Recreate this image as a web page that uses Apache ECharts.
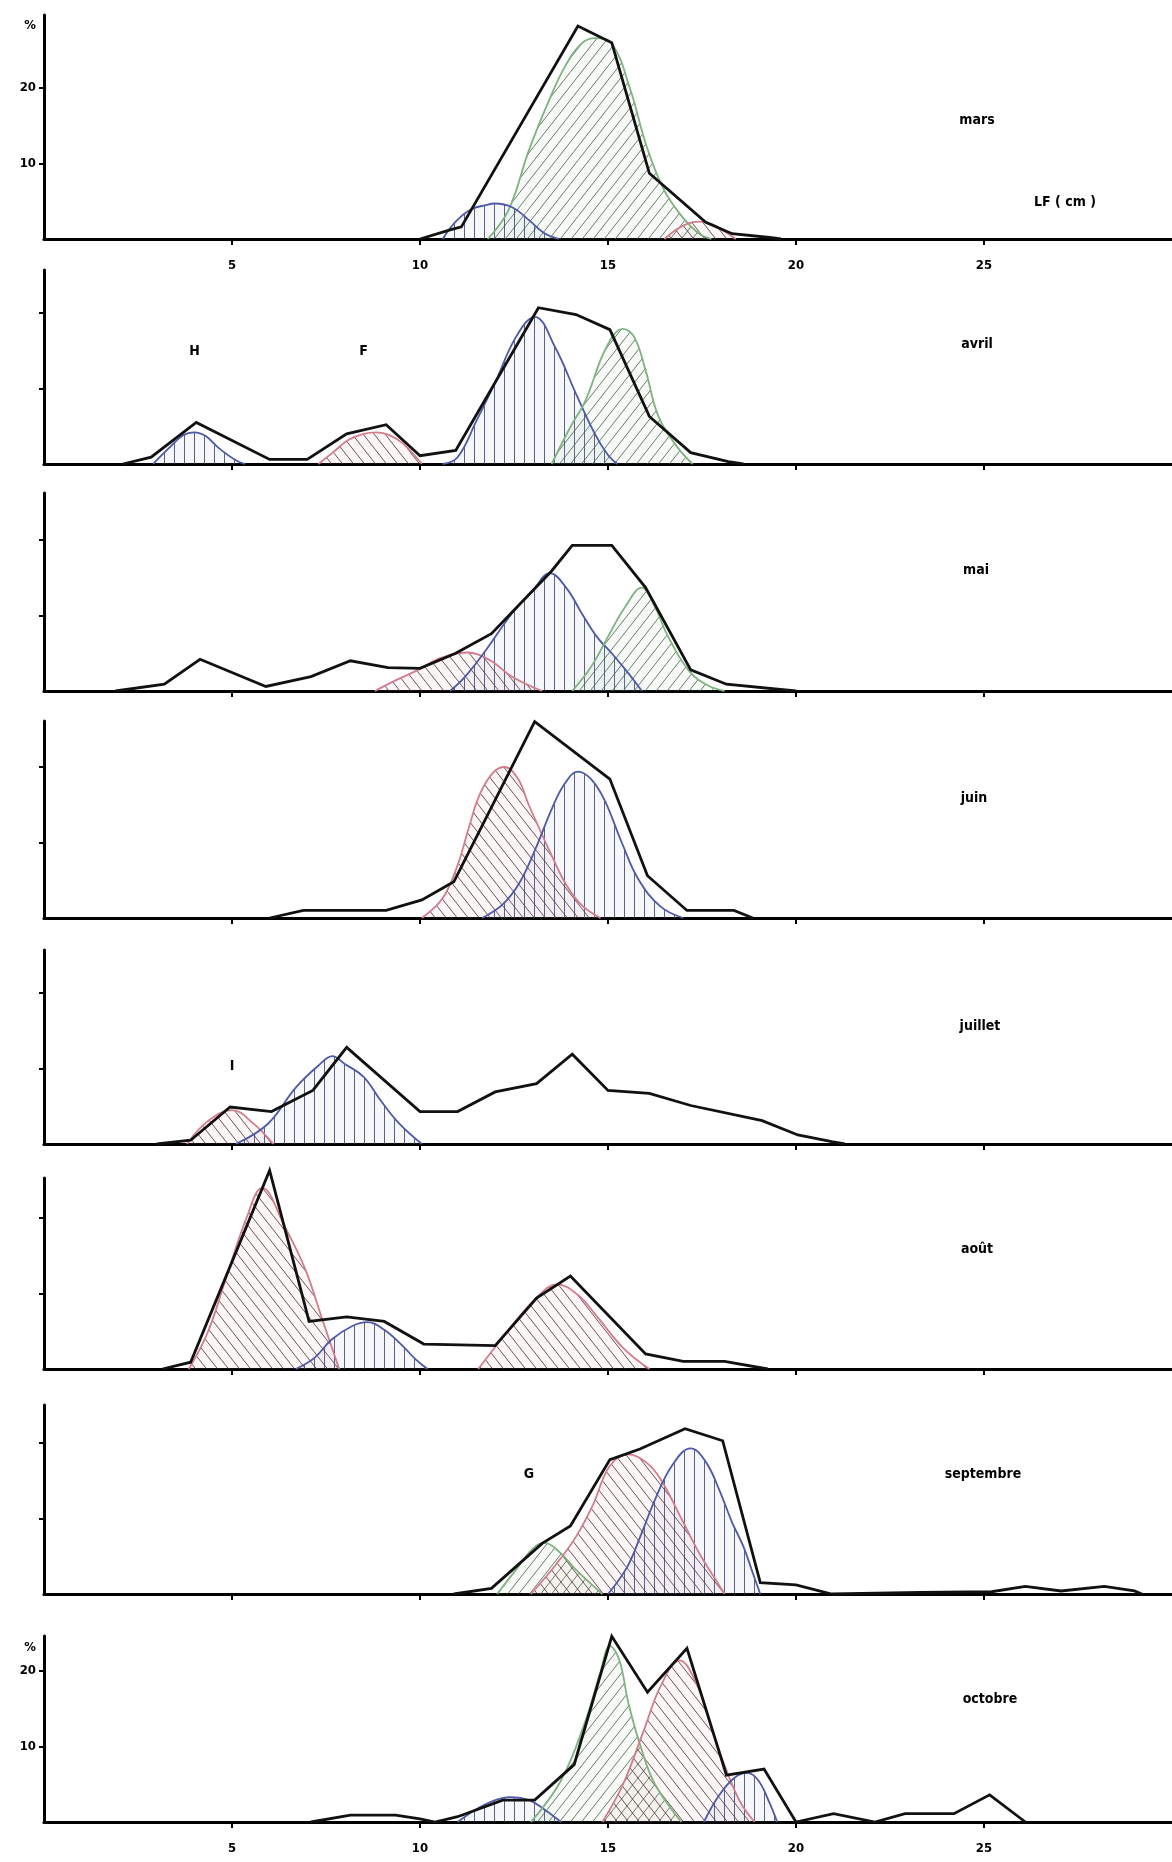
<!DOCTYPE html>
<html>
<head>
<meta charset="utf-8">
<script src="https://cdn.jsdelivr.net/npm/echarts@6/dist/echarts.min.js"></script>
<style>
  html, body { margin: 0; padding: 0; background: #fff; }
  #chart { width: 1172px; height: 1862px; }
</style>
</head>
<body>
<div id="chart"></div>
<script>
// Length-frequency distributions (LF, cm) by month, with fitted cohort components.
const xTicks = [5, 10, 15, 20, 25];
const yTicks = [10, 20];
const months = ['mars', 'avril', 'mai', 'juin', 'juillet', 'août', 'septembre', 'octobre'];

// observed polygons: [LF cm, %]
const marsObs = [[10.0,0],[10.8,1.2],[11.1,1.6],[14.2,28.2],[15.1,26.0],[16.1,8.7],[17.6,2.2],[18.3,0.7],[19.3,0.2],[19.6,0]];
const avrilObs = [[2.1,0],[2.85,0.9],[4.05,5.5],[6.0,0.6],[7.0,0.6],[8.05,4.0],[9.1,5.2],[10.0,1.1],[10.95,1.8],[13.15,20.7],[14.15,19.8],[15.05,17.8],[16.1,6.3],[17.2,1.5],[18.2,0.3],[18.6,0]];
const maiObs = [[1.9,0],[3.2,0.9],[4.15,4.2],[5.9,0.6],[7.1,1.9],[8.15,4.0],[9.15,3.1],[10.0,3.0],[10.95,5.0],[11.9,7.6],[13.5,15.9],[14.05,19.3],[15.1,19.3],[16.0,13.7],[17.2,2.8],[18.15,0.9],[20.0,0]];
const juinObs = [[6.0,0],[6.9,1.0],[9.1,1.0],[10.05,2.4],[10.9,4.8],[13.05,26.0],[15.05,18.4],[16.05,5.6],[17.1,1.0],[18.35,1.0],[18.85,0]];
const juilletObs = [[3.0,0],[3.9,0.5],[4.95,4.9],[6.05,4.3],[7.15,7.1],[8.05,12.8],[10.0,4.3],[11.0,4.3],[12.0,6.9],[13.1,8.0],[14.05,11.9],[15.0,7.1],[16.1,6.7],[17.2,5.1],[19.1,3.1],[20.05,1.2],[20.95,0.3],[21.3,0]];
const aoutObs = [[3.15,0],[3.9,0.9],[6.0,26.3],[7.05,6.3],[8.05,6.9],[9.05,6.3],[10.1,3.3],[12.0,3.1],[13.1,9.4],[14.0,12.3],[16.0,2.0],[17.0,1.0],[18.1,1.0],[19.25,0]];
const septObs = [[10.9,0],[11.9,0.75],[13.25,6.7],[14.0,9.0],[15.05,17.8],[15.85,19.2],[17.05,21.9],[18.05,20.3],[19.05,1.5],[20.0,1.2],[20.95,0],[23.3,0.2],[25.2,0.3],[26.1,1.0],[27.05,0.4],[28.2,1.0],[29.0,0.4],[29.2,0]];
const octObs = [[7.1,0],[8.15,0.9],[9.35,0.9],[10.0,0.4],[10.4,0],[11.0,0.7],[12.2,2.9],[13.05,2.9],[14.1,7.6],[15.1,24.6],[16.05,17.2],[17.1,23.0],[18.15,6.2],[19.15,7.0],[20.0,0],[21.0,1.1],[22.1,0],[22.9,1.1],[24.2,1.1],[25.15,3.6],[26.1,0]];

// fitted components: [LF cm, %]
const marsBlue = [[10.6,0],[10.95,2.3],[11.35,3.9],[11.75,4.5],[12.0,4.7],[12.45,4.2],[12.9,2.5],[13.3,0.8],[13.7,0]];
const marsGreen = [[11.8,0],[12.35,3.8],[12.9,11.8],[13.4,18.0],[13.85,22.8],[14.3,25.9],[14.65,26.6],[15.1,25.9],[15.6,19.7],[16.0,12.7],[16.45,6.9],[16.9,3.4],[17.4,0.8],[17.75,0]];
const marsRed = [[16.5,0],[16.8,1.2],[17.1,2.0],[17.4,2.3],[17.75,2.0],[18.1,1.0],[18.4,0]];

const avrilBlueH = [[2.9,0],[3.3,2.0],[3.7,3.8],[4.0,4.2],[4.3,3.7],[4.65,2.1],[5.1,0.5],[5.35,0]];
const avrilRedF = [[7.3,0],[7.7,1.6],[8.1,3.2],[8.5,4.0],[8.85,4.2],[9.2,3.8],[9.55,2.7],[10.05,0]];
const avrilBlue = [[10.6,0],[11.0,0.9],[11.5,5.7],[12.0,10.8],[12.55,16.8],[13.05,19.5],[13.6,15.4],[14.15,9.3],[14.65,4.0],[15.0,1.2],[15.25,0]];
const avrilGreen = [[13.5,0],[14.0,4.9],[14.4,8.4],[14.95,15.4],[15.4,17.9],[15.7,16.8],[16.0,12.4],[16.35,6.2],[16.85,2.2],[17.25,0]];

const maiRed = [[8.8,0],[9.35,1.4],[9.95,2.8],[10.5,4.3],[11.25,5.1],[11.85,4.1],[12.45,1.9],[13.25,0]];
const maiBlue = [[10.8,0],[11.2,1.9],[11.75,5.4],[12.45,10.3],[13.0,13.3],[13.45,15.6],[13.9,13.6],[14.3,10.3],[14.7,7.2],[15.1,5.0],[15.55,2.3],[15.9,0]];
const maiGreen = [[14.05,0],[14.55,3.2],[15.0,7.2],[15.45,11.1],[15.9,13.7],[16.25,11.1],[16.6,7.2],[17.15,2.7],[17.65,0.75],[18.1,0]];

const juinRed = [[10.05,0],[10.6,2.6],[11.0,7.0],[11.3,12.0],[11.6,16.5],[11.95,19.3],[12.25,20.0],[12.6,18.5],[12.9,14.9],[13.5,8.3],[13.9,4.3],[14.3,1.7],[14.8,0]];
const juinBlue = [[11.65,0],[12.2,1.8],[12.65,4.7],[13.1,9.5],[13.5,14.4],[13.85,17.8],[14.2,19.4],[14.55,18.4],[14.9,15.7],[15.35,10.2],[15.8,5.2],[16.4,1.5],[17.0,0]];

const juilletRed = [[3.8,0],[4.35,3.0],[5.0,4.5],[5.55,2.8],[6.1,0]];
const juilletBlue = [[5.1,0],[5.95,2.65],[6.7,7.5],[7.3,10.4],[7.67,11.65],[8.0,10.6],[8.5,8.9],[8.95,5.8],[9.45,2.7],[10.05,0]];

const aoutRedA = [[3.85,0],[4.35,4.8],[4.8,11.4],[5.4,20.2],[5.8,24.0],[6.4,18.9],[6.95,13.2],[7.4,6.6],[7.85,0]];
const aoutBlue = [[6.7,0],[7.2,1.5],[7.65,3.9],[8.2,5.7],[8.6,6.2],[9.05,5.2],[9.55,3.0],[9.9,1.2],[10.2,0]];
const aoutRedB = [[11.55,0],[12.3,4.8],[13.05,9.2],[13.65,11.2],[14.2,9.8],[14.7,7.0],[15.4,2.8],[16.1,0]];

const septGreen = [[12.05,0],[12.55,3.2],[13.0,6.0],[13.3,6.8],[13.7,5.6],[14.15,3.2],[14.85,0]];
const septRed = [[12.95,0],[13.6,3.8],[14.15,7.6],[14.6,11.8],[15.05,17.0],[15.55,18.5],[16.0,17.5],[16.4,15.2],[17.0,9.5],[17.45,5.2],[17.8,2.4],[18.1,0]];
const septBlue = [[15.0,0],[15.5,3.5],[15.85,7.5],[16.25,12.5],[16.7,17.0],[17.2,19.3],[17.6,17.5],[17.95,13.9],[18.3,9.5],[18.6,6.3],[18.85,2.8],[19.05,0]];

const octBlueA = [[11.0,0],[11.5,1.7],[12.0,2.9],[12.4,3.3],[12.9,2.9],[13.3,1.7],[13.75,0]];
const octGreen = [[12.95,0],[13.75,5.5],[14.4,13.4],[14.8,19.9],[15.05,23.3],[15.3,21.5],[15.55,15.6],[15.9,9.5],[16.25,5.0],[16.95,0]];
const octRed = [[14.85,0],[15.4,5.0],[15.95,12.1],[16.4,18.0],[16.9,21.4],[17.4,17.8],[17.75,12.5],[18.05,8.2],[18.5,2.8],[18.9,0]];
const octBlueB = [[17.55,0],[17.95,3.5],[18.35,5.8],[18.7,6.5],[19.0,5.5],[19.3,2.5],[19.5,0]];

// cohort letters: [text, LF cm, %, panel]
const cohortLetters = [['H', 4.0, 14.9, 1], ['F', 8.5, 14.9, 1], ['I', 5.0, 10.3, 4], ['G', 12.9, 15.9, 6]];

// panels: observed polygon + components (g = '/' hatch, v = vertical hatch, r = '\' hatch)
const panels = [
  { obs: marsObs, comps: [['g', marsGreen], ['v', marsBlue], ['r', marsRed]] },
  { obs: avrilObs, comps: [['v', avrilBlueH], ['r', avrilRedF], ['v', avrilBlue], ['g', avrilGreen]] },
  { obs: maiObs, comps: [['r', maiRed], ['v', maiBlue], ['g', maiGreen]] },
  { obs: juinObs, comps: [['r', juinRed], ['v', juinBlue]] },
  { obs: juilletObs, comps: [['r', juilletRed], ['v', juilletBlue]] },
  { obs: aoutObs, comps: [['r', aoutRedA], ['v', aoutBlue], ['r', aoutRedB]] },
  { obs: septObs, comps: [['g', septGreen], ['r', septRed], ['v', septBlue]] },
  { obs: octObs, comps: [['v', octBlueA], ['g', octGreen], ['r', octRed], ['v', octBlueB]] }
];

// ---- layout ----
const PX = 7.55;                 // pixels per percent
const LEFT = 44;
const baseY = [239, 464, 691, 918, 1144, 1369, 1594, 1822];
const axisTop = [15, 270, 493, 721, 950, 1178, 1405, 1636];
const FONT = '"DejaVu Sans Condensed", "DejaVu Sans", sans-serif';

const style = {
  g: { line: '#7fb37f', hatch: 'rgba(70,95,70,0.8)', tint: 'rgba(140,190,140,0.07)' },
  v: { line: '#4e5aa6', hatch: 'rgba(55,60,95,0.8)', tint: 'rgba(120,135,200,0.07)' },
  r: { line: '#d27c8c', hatch: 'rgba(70,45,50,0.8)', tint: 'rgba(220,140,155,0.08)' }
};

function makeHatch(kind) {
  const w = kind === 'v' ? 10 : 11;
  const h = kind === 'v' ? 10 : 14;
  const c = document.createElement('canvas');
  c.width = w; c.height = h;
  const g = c.getContext('2d');
  g.fillStyle = style[kind].tint;
  g.fillRect(0, 0, w, h);
  g.strokeStyle = style[kind].hatch;
  g.lineWidth = 1;
  g.beginPath();
  if (kind === 'v') {
    g.moveTo(4.5, 0); g.lineTo(4.5, h);
  } else if (kind === 'g') {
    g.moveTo(-w, 2 * h); g.lineTo(2 * w, -h);
    g.moveTo(-2 * w, 2 * h); g.lineTo(w, -h);
    g.moveTo(0, 2 * h); g.lineTo(3 * w, -h);
  } else {
    g.moveTo(-w, -h); g.lineTo(2 * w, 2 * h);
    g.moveTo(-2 * w, -h); g.lineTo(w, 2 * h);
    g.moveTo(0, -h); g.lineTo(3 * w, 2 * h);
  }
  g.stroke();
  return c;
}
const patterns = { g: makeHatch('g'), v: makeHatch('v'), r: makeHatch('r') };

const grids = [], xAxes = [], yAxes = [], series = [], graphics = [];
const labelStyle = { color: '#000', fontFamily: FONT, fontWeight: 'bold', fontSize: 13 };

panels.forEach((p, i) => {
  const height = baseY[i] - axisTop[i];
  grids.push({ left: LEFT, right: -4, top: axisTop[i], height: height });
  const withLabels = i === 0 || i === panels.length - 1;
  xAxes.push({
    type: 'value', gridIndex: i, min: 0, max: 30,
    axisLine: { onZero: false, lineStyle: { color: '#000', width: 3.2 } },
    axisTick: { show: true, length: 6, lineStyle: { color: '#000', width: 2 }, customValues: xTicks },
    axisLabel: { show: withLabels, margin: 20, customValues: xTicks, ...labelStyle },
    splitLine: { show: false }
  });
  yAxes.push({
    type: 'value', gridIndex: i, min: 0, max: height / PX,
    axisLine: { show: true, lineStyle: { color: '#000', width: 3 } },
    axisTick: { show: true, length: 5, lineStyle: { color: '#000', width: 2 }, customValues: yTicks },
    axisLabel: { show: withLabels, margin: 8, customValues: yTicks, ...labelStyle },
    splitLine: { show: false }
  });
  p.comps.forEach(([kind, data]) => {
    series.push({
      type: 'line', xAxisIndex: i, yAxisIndex: i, data: data,
      smooth: 0.4, symbol: 'none', clip: false, silent: true,
      lineStyle: { color: style[kind].line, width: 1.8 },
      areaStyle: { color: { image: patterns[kind], repeat: 'repeat' }, opacity: 1 },
      z: 2
    });
  });
  series.push({
    type: 'line', xAxisIndex: i, yAxisIndex: i, data: p.obs,
    symbol: 'none', clip: false, silent: true,
    lineStyle: { color: '#111', width: 2.8, join: 'miter' },
    z: 5
  });
});

// month names and axis captions
const monthPos = [[977, 120], [977, 344], [976, 570], [974, 798], [980, 1026], [977, 1249], [983, 1474], [990, 1699]];
const captionFont = 'bold 14px ' + FONT;
months.forEach((m, i) => {
  graphics.push({ type: 'text', x: monthPos[i][0], y: monthPos[i][1], z: 10,
    style: { text: m, fill: '#000', font: captionFont, align: 'center', verticalAlign: 'middle' } });
});
graphics.push({ type: 'text', x: 1065, y: 202, z: 10,
  style: { text: 'LF ( cm )', fill: '#000', font: captionFont, align: 'center', verticalAlign: 'middle' } });
[[36, 26], [36, 1648]].forEach(([x, y]) => {
  graphics.push({ type: 'text', x: x, y: y, z: 10,
    style: { text: '%', fill: '#000', font: 'bold 13px ' + FONT, align: 'right', verticalAlign: 'middle' } });
});

const chart = echarts.init(document.getElementById('chart'), null, { renderer: 'canvas' });
chart.setOption({
  animation: false,
  backgroundColor: '#fff',
  grid: grids, xAxis: xAxes, yAxis: yAxes, series: series, graphic: graphics
});

// cohort letters placed in data coordinates
const letterGraphics = cohortLetters.map(([t, x, y, i]) => {
  const pt = chart.convertToPixel({ gridIndex: i }, [x, y]);
  return { type: 'text', x: pt[0], y: pt[1], z: 10,
    style: { text: t, fill: '#000', font: 'bold 14px ' + FONT, align: 'center', verticalAlign: 'middle' } };
});
chart.setOption({ graphic: graphics.concat(letterGraphics) });
</script>
</body>
</html>
